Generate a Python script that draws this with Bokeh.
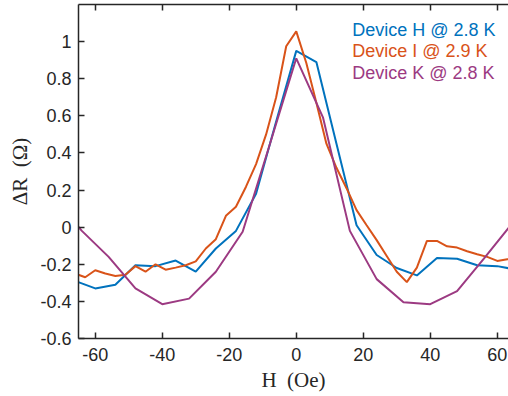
from bokeh.plotting import figure
from bokeh.models import (Range1d, LinearAxis, FixedTicker, CustomJSTickFormatter, Label)
from bokeh.embed import file_html
from bokeh.resources import INLINE

# ---- data ----
h_dev_H = [-66, -60, -54, -48, -42, -36, -30, -24, -18, -12, -6, 0, 6, 12, 18, 24, 30, 36, 42, 48, 54, 60, 66]
dr_dev_H = [-0.29, -0.33, -0.31, -0.205, -0.21, -0.18, -0.24, -0.115, -0.02, 0.18, 0.57, 0.95, 0.89, 0.45, 0.01,
            -0.15, -0.22, -0.26, -0.166, -0.17, -0.205, -0.21, -0.23]

h_dev_I = [-66, -63, -60, -57, -54, -51, -48, -45, -42, -39, -36, -33, -30, -27, -24, -21, -18, -15, -12, -9, -6, -3,
           0, 3, 6, 9, 12, 15, 18, 21, 24, 27, 30, 33, 36, 39, 42, 45, 48, 51, 54, 57, 60, 63, 66]
dr_dev_I = [-0.25, -0.27, -0.232, -0.25, -0.263, -0.256, -0.21, -0.24, -0.2, -0.229, -0.218, -0.205, -0.184, -0.115,
            -0.065, 0.061, 0.11, 0.218, 0.34, 0.50, 0.70, 0.975, 1.055, 0.885, 0.67, 0.45, 0.32, 0.21, 0.092, 0.01,
            -0.07, -0.155, -0.24, -0.296, -0.218, -0.074, -0.074, -0.103, -0.11, -0.13, -0.146, -0.16, -0.182,
            -0.173, -0.17]

h_dev_K = [-72, -64, -56, -48, -40, -32, -24, -16, -8, 0, 8, 16, 24, 32, 40, 48, 56, 64, 72]
dr_dev_K = [0.15, -0.02, -0.16, -0.33, -0.415, -0.385, -0.24, -0.025, 0.44, 0.91, 0.59, -0.02, -0.28, -0.405,
            -0.415, -0.345, -0.17, 0.01, 0.18]

series_names = ["Device H @ 2.8 K", "Device I @ 2.9 K", "Device K @ 2.8 K"]
series_colors = ["#0072BD", "#D95319", "#9C3A82"]

x_ticks = [-60, -40, -20, 0, 20, 40, 60]
y_ticks = [-0.6, -0.4, -0.2, 0, 0.2, 0.4, 0.6, 0.8, 1.0]
x_label = "H\u00a0 (Oe)"
y_label = "ΔR\u00a0 (Ω)"

AX = "#262626"

p = figure(width=508, height=396, output_backend="svg", toolbar_location=None,
           x_range=Range1d(-65, 63.35), y_range=Range1d(-0.6, 1.2),
           min_border_left=78, min_border_right=0, min_border_top=4, min_border_bottom=58)
p.outline_line_color = None
p.grid.visible = False
p.background_fill_color = "white"

fmt = CustomJSTickFormatter(code="var s = tick.toFixed(1); if (s.endsWith('.0')) s = s.slice(0, -2); if (s == '-0') s = '0'; return s;")

for ax in (p.xaxis[0], p.yaxis[0]):
    ax.major_tick_in = 6
    ax.major_tick_out = 0
    ax.minor_tick_in = 0
    ax.minor_tick_out = 0
    ax.axis_line_color = AX
    ax.axis_line_width = 1.5
    ax.major_tick_line_color = AX
    ax.major_tick_line_width = 1.5
    ax.major_label_text_font = "Liberation Sans"
    ax.major_label_text_font_size = "18px"
    ax.major_label_text_color = AX
    ax.formatter = fmt
    ax.axis_label_text_font = "Liberation Serif"
    ax.axis_label_text_font_size = "21px"
    ax.axis_label_text_font_style = "normal"
    ax.axis_label_text_color = AX

p.xaxis[0].ticker = FixedTicker(ticks=x_ticks)
p.yaxis[0].ticker = FixedTicker(ticks=y_ticks)
p.xaxis[0].major_label_standoff = 9
p.yaxis[0].major_label_standoff = 7
p.xaxis[0].axis_label = x_label
p.yaxis[0].axis_label = y_label
p.xaxis[0].axis_label_standoff = 4
p.yaxis[0].axis_label_standoff = 5

top = LinearAxis(ticker=FixedTicker(ticks=x_ticks), formatter=CustomJSTickFormatter(code="return '';"),
                 major_label_standoff=0, major_tick_in=6, major_tick_out=0,
                 minor_tick_in=0, minor_tick_out=0, axis_line_color=AX, axis_line_width=1.5,
                 major_tick_line_color=AX, major_tick_line_width=1.5)
p.add_layout(top, "above")

xs = [h_dev_H, h_dev_I, h_dev_K]
ys = [dr_dev_H, dr_dev_I, dr_dev_K]
for xv, yv, c in zip(xs, ys, series_colors):
    p.line(xv, yv, line_color=c, line_width=2)

# legend (text only)
for i, (name, c) in enumerate(zip(series_names, series_colors)):
    p.add_layout(Label(x=0, y=1.2, x_offset=56, y_offset=-25 - 21.5 * i, text=name,
                       text_color=c, text_font="Liberation Sans", text_font_size="18px",
                       text_align="left", text_baseline="middle"))

open("out.html", "w").write(file_html(p, INLINE))
